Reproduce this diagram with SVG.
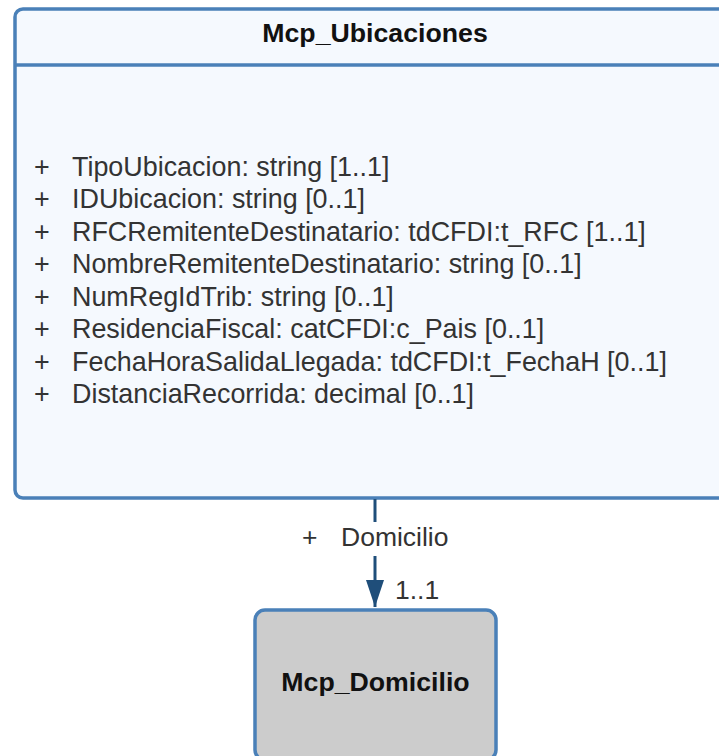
<svg xmlns="http://www.w3.org/2000/svg" width="719" height="756" viewBox="0 0 719 756">
<style>
.frame{stroke:#4a80b8;stroke-width:3.5}
.title{font-family:"Liberation Sans",Arial,sans-serif;font-weight:bold;font-size:26.7px;fill:#111;text-anchor:middle}
.attr{font-family:"Liberation Sans",Arial,sans-serif;font-size:26.9px;fill:#333}
.lbl{font-family:"Liberation Sans",Arial,sans-serif;font-size:26.5px;fill:#333}
.conn{stroke:#1f4e7a;stroke-width:3;fill:none}
</style>
<defs>
<marker id="arr" markerWidth="27" markerHeight="18" refX="27" refY="9" orient="auto" markerUnits="userSpaceOnUse" viewBox="0 0 27 18">
<path d="M0,0 L27,9 L0,18 Z" fill="#1f4e7a"/>
</marker>
</defs>
<rect width="719" height="756" fill="#ffffff"/>
<g id="Mcp_Ubicaciones">
<rect x="15" y="9" width="720" height="489" rx="8" fill="#f5f9fe" class="frame"/>
<line x1="15" y1="65" x2="735" y2="65" class="frame"/>
<text x="375" y="42" class="title">Mcp_Ubicaciones</text>
<g class="attr">
<text x="34" y="176">+</text><text x="72" y="176">TipoUbicacion: string [1..1]</text>
<text x="34" y="208">+</text><text x="72" y="208">IDUbicacion: string [0..1]</text>
<text x="34" y="241">+</text><text x="72" y="241">RFCRemitenteDestinatario: tdCFDI:t_RFC [1..1]</text>
<text x="34" y="273">+</text><text x="72" y="273">NombreRemitenteDestinatario: string [0..1]</text>
<text x="34" y="306">+</text><text x="72" y="306">NumRegIdTrib: string [0..1]</text>
<text x="34" y="338">+</text><text x="72" y="338">ResidenciaFiscal: catCFDI:c_Pais [0..1]</text>
<text x="34" y="371">+</text><text x="72" y="371">FechaHoraSalidaLlegada: tdCFDI:t_FechaH [0..1]</text>
<text x="34" y="403">+</text><text x="72" y="403">DistanciaRecorrida: decimal [0..1]</text>
</g>
</g>
<g id="Mcp_Domicilio">
<rect x="255" y="610" width="241" height="150" rx="10" fill="#cccccc" class="frame"/>
<text x="375.5" y="691" class="title">Mcp_Domicilio</text>
</g>
<g id="connectors">
<line x1="375" y1="499" x2="375" y2="522" class="conn"/>
<line x1="375" y1="556" x2="375" y2="607" class="conn" marker-end="url(#arr)"/>
<text x="302" y="546" class="lbl">+</text>
<text x="341" y="546" class="lbl">Domicilio</text>
<text x="395" y="599" class="lbl">1..1</text>
</g>
</svg>
